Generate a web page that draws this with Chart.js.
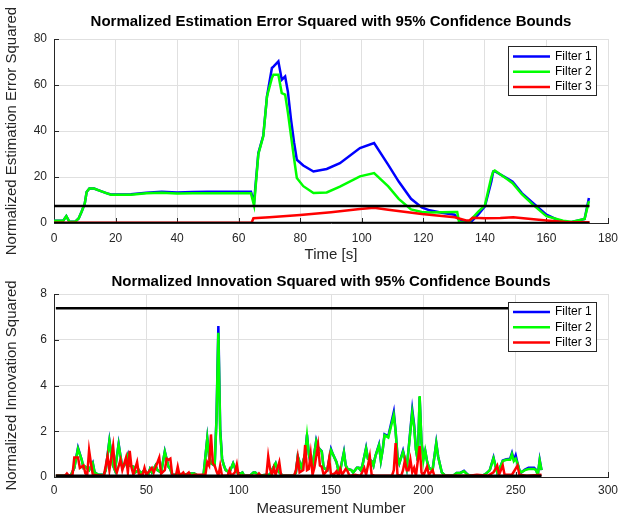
<!DOCTYPE html>
<html>
<head>
<meta charset="utf-8">
<script src="https://cdn.jsdelivr.net/npm/chart.js@4.4.1/dist/chart.umd.min.js"></script>
<style>
  html, body { margin: 0; padding: 0; background: #fff; }
  #wrap { position: relative; width: 629px; height: 518px; }
  canvas { position: absolute; left: 0; }
  #neesCanvas { top: 0; }
  #nisCanvas { top: 266px; }
</style>
</head>
<body>
<div id="wrap">
  <canvas id="neesCanvas" width="629" height="266"></canvas>
  <canvas id="nisCanvas" width="629" height="252"></canvas>
</div>
<script>
/* ---- NEES (top) ---- */
const estTime = [0, 3, 4, 5, 7, 8, 9, 10, 10.6, 11.5, 13, 15, 17, 18.5, 20, 25, 30, 35, 40, 45, 50, 55, 60, 64, 65,
  66.4, 68, 69.2, 70.8, 71.3, 72.9, 74, 75.1, 76, 77, 78, 78.9, 81, 84.3, 88.6, 92.9, 99.4, 104, 108.6, 112, 116,
  119.5, 122, 126, 130.2, 131, 131.6, 132.4, 134.2, 135.5, 137.8, 140, 142.1, 142.7, 143.2, 147.5, 149, 152, 155.6,
  160, 165.4, 168, 172.4, 173.8];
const estF1 = [1, 1, 3, 0.5, 0.7, 2, 5, 8.5, 13.5, 15, 15, 14, 13, 12.4, 12.4, 12.5, 13.2, 13.6, 13.3, 13.5, 13.6, 13.6, 13.6, 13.6, 9,
  30.4, 38, 55, 67.4, 68, 70.3, 62.3, 63.7, 57, 45, 35, 27.5, 25, 22.4, 23.5, 26, 32.6, 34.8, 25.3, 18, 10.5,
  6.8, 5.5, 4.5, 3.6, 2.2, 1.5, 1, 0.5, 0.5, 3.6, 7.2, 18, 22.4, 22.5, 19.2, 18, 13, 8.7,
  3.6, 0.3, 0.3, 1.7, 10.9];
const estF2 = [1, 1, 3, 0.5, 0.7, 2, 5, 8.5, 13.5, 15, 15, 14, 13, 12.3, 12.3, 12.3, 12.9, 13.1, 12.8, 12.9, 12.9, 12.9, 12.9, 12.9, 7.6,
  30, 37.7, 55, 63, 64.5, 64.5, 56.5, 55.8, 48, 38, 28, 19.6, 16, 13, 13.3, 15.8, 20.3, 21.7, 15.9, 10.5, 5.9,
  4.8, 4.6, 4.7, 4.8, 4.8, 0.5, 0.3, 0, 1.5, 4.8, 7.7, 20, 22.4, 22.8, 18.8, 17.3, 12.5, 8,
  3, 1, 0.5, 1.8, 9.5];
const estRedTime = [0, 64.2, 64.8, 70, 80, 90, 99.4, 104, 108.6, 119.5, 130.2, 133.9, 135, 136, 140, 145, 149.2, 155, 160, 166, 174];
const estF3 = [0.1, 0.1, 2.1, 2.5, 3.5, 4.7, 6.1, 6.6, 5.8, 3.9, 2.5, 1.1, 1.1, 2.3, 2.1, 2.2, 2.5, 1.7, 1.1, 0.4, 0.3];
const estBoundTime = [0, 174];

/* ---- NIS (bottom) ---- */
const nisN = [1, 5, 7, 9, 11, 13, 15, 16, 17, 19, 21, 22, 24, 27, 28, 30, 32, 33, 35, 37, 38, 40, 41, 43, 44, 46, 47, 49,
  51, 52, 53, 55, 56, 58, 60, 62, 63, 64, 66, 67, 70, 74, 76, 78, 81, 83, 84, 85, 87, 88, 89, 90, 91, 92, 93, 95, 97,
  98, 100, 102, 103, 106, 108, 109, 111, 115, 117, 118, 120, 121, 122, 124, 130, 131, 132, 134, 136, 137, 138, 139,
  140, 142, 143, 145, 146, 148, 150, 151, 153, 154, 155, 157, 158, 159, 161, 162, 164, 165, 166, 167, 169, 170, 172,
  173, 174, 176, 177, 178, 179, 181, 184, 185, 186, 187, 189, 190, 191, 192, 194, 195, 196, 197, 198, 199, 200, 201,
  202, 203, 205, 207, 208, 210, 212, 216, 218, 220, 222, 224, 226, 232, 234, 236, 238, 239, 240, 242, 243, 245, 247,
  248, 249, 250, 251, 252, 253, 255, 257, 260, 261, 262, 263, 264];
const nisF1 = [0.05, 0.05, 0.1, 0.05, 0.4, 1.28, 0.75, 0.4, 0.45, 0.3, 0.62, 0.2, 0.1, 0.1, 0.3, 1.6, 0.5, 0.3, 1.45, 0.4, 0.5, 0.98, 0.5, 0.45, 0.2, 0.3, 0.15, 0.3,
  0.1, 0.35, 0.2, 0.5, 0.3, 0.2, 1.12, 0.45, 0.35, 0.1, 0.1, 0.15, 0.1, 0.15, 0.15, 0.05, 0.1, 1.7, 0.9, 0.6, 0.5, 2.6, 6.6, 2.1, 0.8, 0.5, 0.3, 0.2, 0.6,
  0.4, 0.1, 0.2, 0.05, 0.05, 0.2, 0.2, 0.05, 0.1, 0.1, 0.3, 0.6, 0.3, 0.2, 0.05, 0.05, 0.2, 0.9, 0.4, 1.0, 1.85, 1.0, 0.6,
  0.5, 1.6, 1.3, 1.12, 0.4, 0.3, 1.22, 1.0, 0.65, 0.3, 0.3, 1.1, 0.5, 0.35, 0.3, 0.2, 0.4, 0.4, 0.3, 0.5, 1.28, 0.8, 0.7,
  0.5, 0.9, 1.42, 0.72, 1.2, 1.87, 1.78, 2.85, 2.0, 0.9, 0.6, 1.15, 0.8, 0.4, 1.2, 2.95, 2.3, 1.2, 0.72, 3.5, 1.5, 0.9, 1.15,
  0.7, 0.4, 0.3, 1.5, 0.9, 0.2, 0.05, 0.05, 0.18, 0.18, 0.27, 0.1, 0.05, 0.05, 0.15, 0.3, 0.85, 0.5, 0.2, 0.5, 0.72, 0.78, 0.8,
  1.05, 0.75, 0.95, 0.6, 0.3, 0.2, 0.32, 0.4, 0.4, 0.32, 0.1, 0.75, 0.3];
const nisF2 = [0.05, 0.05, 0.1, 0.05, 0.4, 1.24, 0.75, 0.4, 0.45, 0.3, 0.6, 0.2, 0.1, 0.1, 0.3, 1.57, 0.5, 0.3, 1.42, 0.4, 0.5, 0.95, 0.5, 0.45, 0.2, 0.3, 0.15, 0.3,
  0.1, 0.35, 0.2, 0.5, 0.3, 0.2, 1.1, 0.45, 0.35, 0.1, 0.1, 0.15, 0.1, 0.15, 0.15, 0.05, 0.1, 1.68, 0.9, 0.6, 0.5, 2.5, 6.3, 2.0, 0.8, 0.5, 0.3, 0.2, 0.6,
  0.4, 0.1, 0.2, 0.05, 0.05, 0.2, 0.2, 0.05, 0.1, 0.1, 0.3, 0.6, 0.3, 0.2, 0.05, 0.05, 0.2, 0.9, 0.4, 1.0, 1.8, 1.0, 0.6,
  0.5, 1.57, 1.3, 1.1, 0.4, 0.3, 1.17, 1.0, 0.65, 0.3, 0.3, 1.07, 0.5, 0.35, 0.3, 0.2, 0.4, 0.4, 0.3, 0.5, 1.24, 0.8, 0.7,
  0.5, 0.9, 1.38, 0.72, 1.2, 1.83, 1.73, 2.7, 2.0, 0.9, 0.6, 1.1, 0.8, 0.4, 1.2, 2.8, 2.2, 1.2, 0.72, 3.54, 1.5, 0.7, 1.15,
  0.7, 0.4, 0.3, 1.47, 0.9, 0.2, 0.05, 0.05, 0.18, 0.18, 0.25, 0.1, 0.05, 0.05, 0.15, 0.3, 0.82, 0.5, 0.2, 0.5, 0.7, 0.75, 0.75,
  1.0, 0.7, 0.8, 0.6, 0.3, 0.2, 0.3, 0.35, 0.35, 0.3, 0.1, 0.72, 0.3];
const nisRedN = [1, 6, 7, 8, 10, 11, 13, 14, 16, 17, 18, 19, 20, 21, 27, 29, 30, 32, 33, 34, 36, 37, 39, 40, 41, 42, 43, 45, 46,
  48, 49, 50, 53, 54, 57, 58, 60, 61, 62, 63, 64, 66, 67, 68, 70, 71, 73, 74, 76, 82, 83, 84, 85, 86, 87, 88, 89, 90,
  91, 94, 95, 96, 98, 99, 100, 110, 111, 112, 115, 116, 117, 118, 119, 120, 122, 123, 130, 131, 132, 133, 135, 136,
  137, 138, 139, 140, 141, 143, 144, 145, 146, 148, 149, 150, 152, 153, 154, 155, 156, 158, 159, 160, 163, 166, 168,
  169, 171, 172, 174, 183, 184, 185, 186, 188, 189, 190, 191, 192, 193, 194, 195, 196, 198, 199, 200, 202, 203, 205,
  206, 225, 229, 235, 238, 240, 241, 243, 244, 248, 251, 252, 256, 264];
const nisF3 = [0.05, 0.05, 0.15, 0.05, 0.1, 0.85, 0.85, 0.4, 0.5, 0.15, 0.1, 1.17, 0.6, 0.1, 0.05, 0.9, 0.3, 1.35, 0.4, 0.2, 0.75, 0.3, 0.85, 0.2, 1.14, 0.4, 0.1, 0.65, 0.1,
  0.1, 0.4, 0.1, 0.4, 0.2, 0.85, 0.15, 0.3, 0.8, 0.75, 0.8, 0.1, 0.05, 0.45, 0.05, 0.2, 0.05, 0.2, 0.05, 0.1, 0.1, 0.65, 0.5, 1.86, 0.6, 0.5, 0.25, 0.05, 0.5,
  0.05, 0.05, 0.3, 0.05, 0.2, 0.55, 0.05, 0.05, 0.15, 0.05, 0.05, 0.9, 0.35, 0.1, 0.4, 0.1, 0.65, 0.05, 0.05, 0.3, 0.85, 0.2, 0.3, 1.4,
  0.3, 0.35, 1.0, 0.1, 0.4, 1.4, 0.5, 0.45, 0.1, 0.3, 0.8, 0.1, 0.15, 0.25, 0.05, 0.35, 0.1, 0.35, 0.25, 0.05, 0.1, 0.05, 0.4,
  0.1, 0.9, 0.1, 0.05, 0.05, 0.3, 1.48, 0.1, 0.05, 0.3, 0.72, 0.3, 0.3, 0.75, 0.2, 0.4, 0.05, 1.35, 0.2, 0.05, 0.45, 0.1, 0.3,
  0.05, 0.05, 0.1, 0.05, 0.2, 0.5, 0.1, 0.5, 0.1, 0.1, 0.5, 0.1, 0.05, 0.1];
const nisBoundN = [1, 264];

// 95% chi-square bounds
const upperBound = 7.38;
const lowerBound = 0.05;

const filterLabels = ['Filter 1', 'Filter 2', 'Filter 3'];
const filterColors = ['#0000ff', '#00ff00', '#ff0000'];

Chart.defaults.font.family = '"Liberation Sans", Arial, Helvetica, sans-serif';
Chart.defaults.color = '#262626';

function pts(xs, ys) {
  return xs.map((x, i) => ({ x: x, y: ys[i] }));
}

function lineSet(label, color, data, order) {
  return { label: label, data: data, borderColor: color, backgroundColor: color, borderWidth: 2.5,
           pointRadius: 0, tension: 0, fill: false, order: order };
}

function boundSets(xs) {
  return [
    { data: pts(xs, [upperBound, upperBound]), borderColor: '#000', borderWidth: 2.5, pointRadius: 0, order: 0 },
    { data: pts(xs, [lowerBound, lowerBound]), borderColor: '#000', borderWidth: 2.5, pointRadius: 0, order: 0 },
  ];
}

// small inward tick marks like matlab
const inwardTicks = {
  id: 'inwardTicks',
  beforeDatasetsDraw(chart) {
    const { ctx, chartArea: a, scales: { x, y } } = chart;
    ctx.save();
    ctx.strokeStyle = '#262626';
    ctx.lineWidth = 1;
    ctx.beginPath();
    x.ticks.forEach(t => {
      const px = Math.round(x.getPixelForValue(t.value)) + 0.5;
      ctx.moveTo(px, a.bottom); ctx.lineTo(px, a.bottom - 5);
    });
    y.ticks.forEach(t => {
      const py = Math.round(y.getPixelForValue(t.value)) + 0.5;
      ctx.moveTo(a.left, py); ctx.lineTo(a.left + 5, py);
    });
    ctx.stroke();
    ctx.restore();
  }
};

// legend box drawn inside the axes
const boxLegend = {
  id: 'boxLegend',
  afterDatasetsDraw(chart, args, opts) {
    const ctx = chart.ctx;
    const items = chart.data.datasets.filter(d => d.label);
    ctx.save();
    ctx.fillStyle = '#fff';
    ctx.fillRect(opts.x, opts.y, opts.w, opts.h);
    ctx.strokeStyle = '#262626';
    ctx.lineWidth = 1;
    ctx.strokeRect(opts.x + 0.5, opts.y + 0.5, opts.w, opts.h);
    ctx.font = '12px "Liberation Sans", Arial, sans-serif';
    ctx.textBaseline = 'middle';
    items.forEach((d, i) => {
      const cy = opts.y + opts.firstRow + i * opts.rowGap;
      ctx.strokeStyle = d.borderColor;
      ctx.lineWidth = 2.5;
      ctx.beginPath();
      ctx.moveTo(opts.x + 5, cy);
      ctx.lineTo(opts.x + 42, cy);
      ctx.stroke();
      ctx.fillStyle = '#000';
      ctx.fillText(d.label, opts.x + 47, cy);
    });
    ctx.restore();
  }
};

function makeChart(canvasId, cfg) {
  return new Chart(document.getElementById(canvasId), {
    type: 'line',
    data: { datasets: cfg.datasets },
    options: {
      responsive: false,
      animation: false,
      devicePixelRatio: 1,
      layout: { padding: { left: 0, right: 21, top: 0, bottom: 0 } },
      plugins: {
        legend: { display: false },
        tooltip: { enabled: false },
        title: {
          display: true, text: cfg.title, color: '#000', fullSize: false,
          font: { size: 15, weight: 'bold' },
          padding: cfg.titlePad,
        },
        boxLegend: cfg.legendBox,
      },
      scales: {
        x: {
          type: 'linear', min: cfg.xMin, max: cfg.xMax,
          afterFit: s => { s.height = cfg.xAxisHeight; },
          ticks: { stepSize: cfg.xStep, padding: cfg.xTickPad, font: { size: 12 }, color: '#262626', maxRotation: 0 },
          grid: { color: '#e0e0e0', drawTicks: false },
          border: { display: true, color: '#262626', width: 1 },
          title: { display: true, text: cfg.xTitle, font: { size: 15 }, color: '#262626',
                   padding: { top: 0, bottom: cfg.xTitlePadBottom } },
        },
        y: {
          type: 'linear', min: cfg.yMin, max: cfg.yMax,
          afterFit: s => { s.width = 54; },
          ticks: { stepSize: cfg.yStep, padding: 7, font: { size: 12 }, color: '#262626' },
          grid: { color: '#e0e0e0', drawTicks: false },
          border: { display: true, color: '#262626', width: 1 },
          title: { display: true, text: cfg.yTitle, font: { size: 15 }, color: '#262626',
                   padding: { top: 3, bottom: 0 } },
        },
      },
    },
    plugins: [inwardTicks, boxLegend],
  });
}

makeChart('neesCanvas', {
  title: 'Normalized Estimation Error Squared with 95% Confidence Bounds',
  titlePad: { top: 13, bottom: 8 },
  xTitle: 'Time [s]', yTitle: 'Normalized Estimation Error Squared',
  xMin: 0, xMax: 180, xStep: 20, yMin: 0, yMax: 80, yStep: 20,
  xAxisHeight: 43, xTickPad: 8, xTitlePadBottom: 2,
  legendBox: { x: 508, y: 46, w: 88, h: 49, firstRow: 10.5, rowGap: 15.3 },
  datasets: [
    lineSet(filterLabels[0], filterColors[0], pts(estTime, estF1), 3),
    lineSet(filterLabels[1], filterColors[1], pts(estTime, estF2), 2),
    lineSet(filterLabels[2], filterColors[2], pts(estRedTime, estF3), 1),
    ...boundSets(estBoundTime),
  ],
});

makeChart('nisCanvas', {
  title: 'Normalized Innovation Squared with 95% Confidence Bounds',
  titlePad: { top: 7, bottom: 3 },
  xTitle: 'Measurement Number', yTitle: 'Normalized Innovation Squared',
  xMin: 0, xMax: 300, xStep: 50, yMin: 0, yMax: 8, yStep: 2,
  xAxisHeight: 41, xTickPad: 6, xTitlePadBottom: 0,
  legendBox: { x: 508, y: 36, w: 88, h: 49, firstRow: 10, rowGap: 15.3 },
  datasets: [
    lineSet(filterLabels[0], filterColors[0], pts(nisN, nisF1), 3),
    lineSet(filterLabels[1], filterColors[1], pts(nisN, nisF2), 2),
    lineSet(filterLabels[2], filterColors[2], pts(nisRedN, nisF3), 1),
    ...boundSets(nisBoundN),
  ],
});
</script>
</body>
</html>
